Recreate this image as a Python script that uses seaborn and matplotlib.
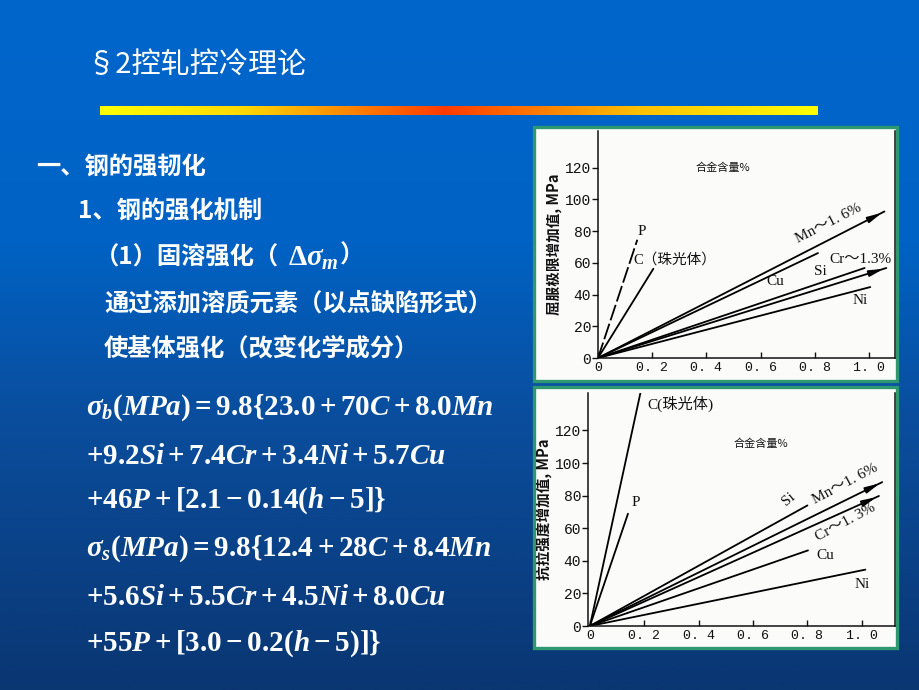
import numpy as np
import pandas as pd
import seaborn as sns
import matplotlib.pyplot as plt
from matplotlib.colors import LinearSegmentedColormap
from matplotlib.patches import Rectangle

# yield strength increase (MPa) vs alloy content (%) - end points of each line, all start at 0
ys_elements = ['P', 'C', 'Mn', 'Cu', 'Si', 'Cr', 'Ni']
ys_end_x = [0.145, 0.204, 1.056, 0.811, 0.983, 1.063, 1.004]
ys_end_y = [74.5, 56.2, 92.3, 66.1, 56.7, 56.7, 44.7]

# tensile strength increase (MPa) vs alloy content (%)
ts_elements = ['C', 'P', 'Si', 'Mn', 'Cr', 'Cu', 'Ni']
ts_end_x = [0.20, 0.14, 0.80, 1.075, 1.063, 0.802, 1.013]
ts_end_y = [154.0, 68.9, 74.0, 88.3, 79.8, 46.4, 34.6]

y_ticks = [0, 20, 40, 60, 80, 100, 120]
x_ticks = [0, 0.2, 0.4, 0.6, 0.8, 1.0]
x_tick_labels = ['0', '0. 2', '0. 4', '0. 6', '0. 8', '1. 0']

title = '§2控轧控冷理论'
bullets = ['一、钢的强韧化', '1、钢的强化机制', '（1）固溶强化（',
           '通过添加溶质元素（以点缺陷形式）', '使基体强化（改变化学成分）']
formulas = [r'$\sigma_b(MPa) = 9.8\{23.0 + 70C + 8.0Mn$',
            r'$+9.2Si + 7.4Cr + 3.4Ni + 5.7Cu$',
            r'$+46P + [2.1 - 0.14(h - 5]\}$',
            r'$\sigma_s(MPa) = 9.8\{12.4 + 28C + 8.4Mn$',
            r'$+5.6Si + 5.5Cr + 4.5Ni + 8.0Cu$',
            r'$+55P + [3.0 - 0.2(h - 5)]\}$']

sns.set_theme(style='white')
plt.rcParams['font.family'] = ['Noto Sans CJK SC', 'DejaVu Sans']
plt.rcParams['mathtext.fontset'] = 'custom'
plt.rcParams['mathtext.rm'] = 'Liberation Serif:bold'
plt.rcParams['mathtext.it'] = 'Liberation Serif:italic:bold'
plt.rcParams['mathtext.bf'] = 'Liberation Serif:bold'

W, H = 920, 690
fig = plt.figure(figsize=(9.2, 6.9), dpi=100)


def fx(px):
    return px / W


def fy(py):
    return 1 - py / H


# slide background
bg = fig.add_axes([0, 0, 1, 1], zorder=-1)
bg_cmap = LinearSegmentedColormap.from_list(
    'bg', [(0, '#0066cc'), (0.35, '#0062c4'), (0.6, '#0a4e9e'), (1, '#0a3672')])
bg.imshow(np.linspace(0, 1, 256).reshape(-1, 1), aspect='auto', cmap=bg_cmap,
          extent=[0, 1, 0, 1])
bg.set_xlim(0, 1)
bg.set_ylim(0, 1)
bg.axis('off')

# chart panels
for top, bottom in [(127, 381), (387, 648)]:
    bg.add_patch(Rectangle((fx(534), fy(bottom)), fx(897) - fx(534), fy(top) - fy(bottom),
                           transform=fig.transFigure, facecolor='#fbfbfa',
                           edgecolor='#2e9870', lw=2.4, zorder=3))

# title and gradient bar
fig.text(fx(86), fy(65), title, color='white', fontsize=21, va='center', ha='left')
bar_cmap = LinearSegmentedColormap.from_list(
    'bar', [(0, '#ffff00'), (0.2, '#ffd800'), (0.48, '#ff3a00'), (0.75, '#ffc000'), (1, '#ffff00')])
bar = fig.add_axes([fx(100), fy(115), fx(818) - fx(100), fy(106) - fy(115)])
bar.imshow(np.linspace(0, 1, 256).reshape(1, -1), aspect='auto', cmap=bar_cmap)
bar.axis('off')

# bullet text
txt = dict(color='white', fontsize=17.5, fontweight='bold', va='center', ha='left')
fig.text(fx(36), fy(167), bullets[0], **txt)
fig.text(fx(78), fy(212), bullets[1], **txt)
fig.text(fx(95), fy(258), bullets[2], **txt)
fig.text(fx(288), fy(258), r'$\mathrm{\Delta}\sigma_{m}$', color='white', fontsize=21, va='center', ha='left')
fig.text(fx(340), fy(256), '）', **txt)
fig.text(fx(104), fy(303), bullets[3], **txt)
fig.text(fx(104), fy(349), bullets[4], **txt)

for s, py in zip(formulas, [408, 456, 501, 549, 597, 644]):
    fig.text(fx(86), fy(py), s, color='white', fontsize=21, va='center', ha='left')


def draw_chart(ax, elements, ex, ey, xlim, ylim, ylabel, dashed=()):
    df = pd.DataFrame({'element': np.repeat(elements, 2),
                       'x': np.ravel([[0, x] for x in ex]),
                       'y': np.ravel([[0, y] for y in ey])})
    for el in elements:
        sub = df[df['element'] == el]
        sns.lineplot(data=sub, x='x', y='y', ax=ax, color='black', lw=1.3,
                     linestyle=(0, (9, 2)) if el in dashed else '-', sort=False)
    for el, x, y in zip(elements, ex, ey):
        if el in ('Mn', 'Cr'):
            ax.annotate('', xy=(x, y), xytext=(x * 0.94, y * 0.94),
                        arrowprops=dict(arrowstyle='-|>,head_length=0.7,head_width=0.15',
                                        color='black', lw=1.3))
    ax.set_xlim(*xlim)
    ax.set_ylim(*ylim)
    ax.set_facecolor('none')
    ax.set_xticks(x_ticks)
    ax.set_xticklabels(x_tick_labels, fontfamily='Liberation Mono', fontsize=9.5)
    ax.set_yticks(y_ticks)
    ax.set_yticklabels([str(v) for v in y_ticks], fontfamily='Liberation Mono', fontsize=10.5)
    ax.tick_params(axis='x', direction='in', length=4, width=1, pad=3, colors='#111111', bottom=True)
    ax.tick_params(axis='y', direction='out', length=4, width=1, pad=1, colors='#111111', left=True)
    for side in ['left', 'bottom', 'right']:
        ax.spines[side].set_color('#111111')
        ax.spines[side].set_linewidth(1.1)
    ax.spines['top'].set_visible(False)
    ax.set_xlabel('')
    ax.set_ylabel(ylabel, fontsize=10.5, fontweight='bold', color='#111111', labelpad=2)


serif = ['Liberation Serif', 'Noto Sans CJK SC']
lab = dict(fontsize=11, color='#111111', family=serif, ha='center', va='center')

ax1 = fig.add_axes([fx(598), fy(358), fx(895) - fx(598), fy(131) - fy(358)], zorder=2)
draw_chart(ax1, ys_elements, ys_end_x, ys_end_y, (0, 1.095), (0, 143),
           '屈服极限增加值, MPa', dashed=('P',))
ax1.text(0.46, 120, '合金含量%', fontsize=8, color='#111111', ha='center', va='center')
ax1.text(0.16, 80, 'P', **lab)
ax1.text(0.13, 62, 'C（珠光体）', fontsize=10.5, color='#111111', family=serif, ha='left', va='center')
ax1.text(0.85, 84.5, 'Mn～1. 6%', rotation=27, rotation_mode='anchor', **lab)
ax1.text(0.655, 48, 'Cu', **lab)
ax1.text(0.82, 54.5, 'Si', **lab)
ax1.text(0.968, 62, 'Cr～1.3%', **lab)
ax1.text(0.968, 36, 'Ni', **lab)

ax2 = fig.add_axes([fx(588), fy(626), fx(895) - fx(588), fy(393) - fy(626)], zorder=2)
draw_chart(ax2, ts_elements, ts_end_x, ts_end_y, (-0.007, 1.122), (0, 143),
           '抗拉强度增加值, MPa')
ax2.text(0.21, 136, 'C(珠光体)', fontsize=11, color='#111111', family=serif, ha='left', va='center')
ax2.text(0.627, 112, '合金含量%', fontsize=8, color='#111111', ha='center', va='center')
ax2.text(0.167, 76, 'P', **lab)
ax2.text(0.73, 78, 'Si', rotation=40, rotation_mode='anchor', **lab)
ax2.text(0.94, 87, 'Mn～1. 6%', rotation=28, rotation_mode='anchor', **lab)
ax2.text(0.94, 63.5, 'Cr～1. 3%', rotation=28, rotation_mode='anchor', **lab)
ax2.text(0.866, 43.5, 'Cu', **lab)
ax2.text(1.0, 25.5, 'Ni', **lab)

fig.savefig('out.png', dpi=100)
